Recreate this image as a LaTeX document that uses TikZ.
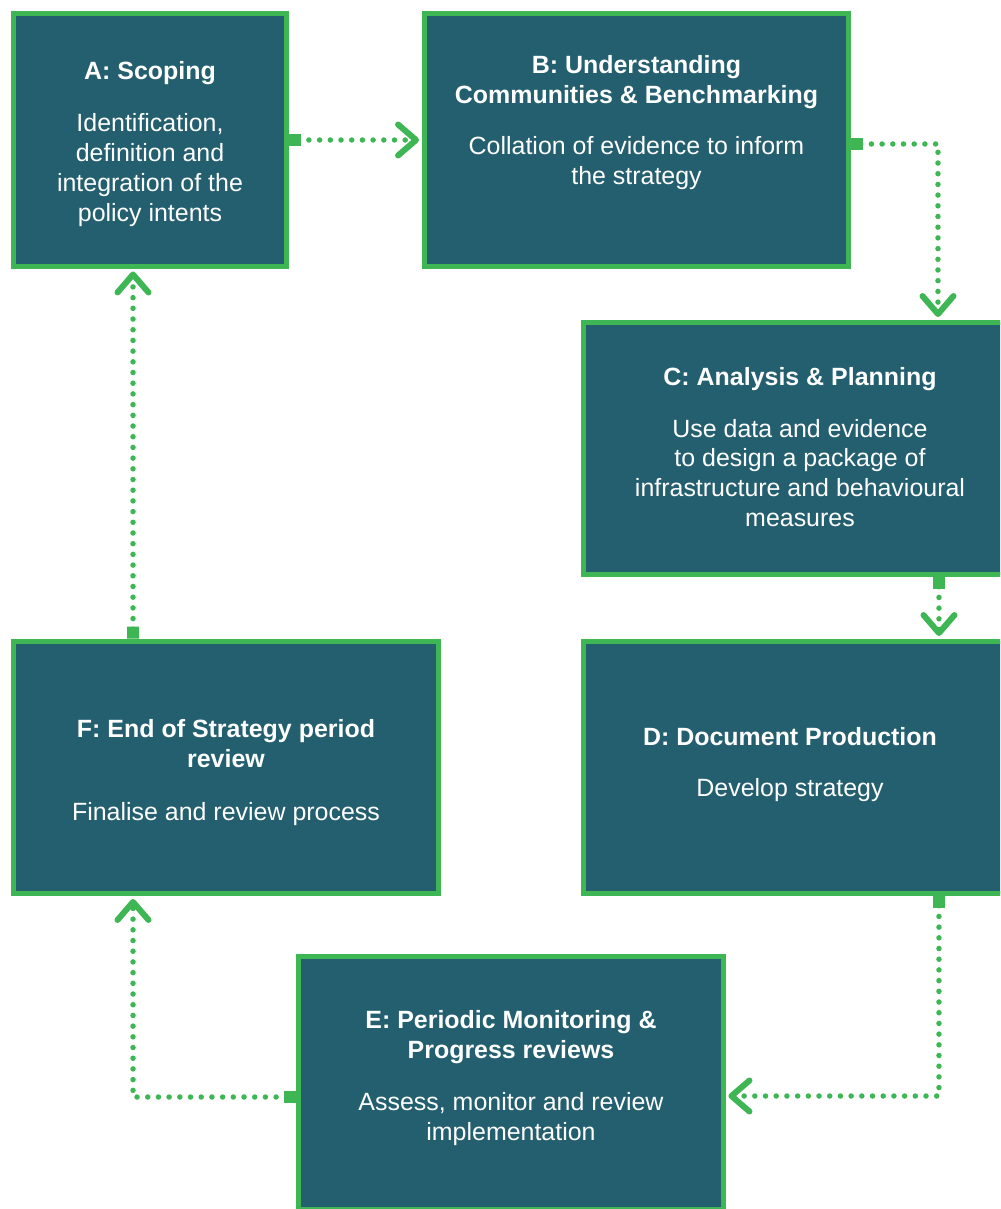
\documentclass[tikz,border=0pt]{standalone}
\usepackage{fontspec}
\setmainfont{Liberation Sans}
\usepackage{tikz}
\usetikzlibrary{arrows.meta, positioning, calc}

\definecolor{stageteal}{RGB}{35,95,111}
\definecolor{stagegreen}{RGB}{62,182,84}

\begin{document}
\begin{tikzpicture}[x=0.02cm, y=-0.02cm,
        stagebox/.style={draw=stagegreen, fill=stageteal, line width=0.1cm,
            minimum width=8.5cm, minimum height=5.06cm, inner sep=0pt},
        stagetext/.style={align=center, text=white, inner sep=0pt,
            font=\fontsize{14.2}{17}\selectfont},
        flow/.style={stagegreen, line width=0.11cm, line cap=round,
            dash pattern=on 0pt off 0.214cm, shorten >=0.05cm,
            {Square[length=0.24cm, width=0.24cm]}-{Straight Barb[length=0.36cm, width=0.62cm, line width=0.12cm, round]}}]

    \useasboundingbox (0,0) rectangle (1000,1209);
    \clip (0,0) rectangle (1000,1209);

    % Stage boxes
    \node[stagebox, minimum width=5.46cm] (boxA) at (150,140) {};
    \node[stagebox] (boxB) at (636.5,140) {};
    \node[stagebox] (boxC) at (796,448.5) {};
    \node[stagebox] (boxD) at (796,767.5) {};
    \node[stagebox] (boxE) at (511,1083) {};
    \node[stagebox] (boxF) at (226,767.5) {};

    % Stage texts
    \node[stagetext] (txtA) at ([yshift=-0.08cm]boxA.center) {\textbf{A: Scoping}\\[12.5pt]
        Identification,\\definition and\\integration of the\\policy intents};
    \node[stagetext] (txtB) at ([yshift=0.35cm]boxB.center) {\textbf{B: Understanding}\\\textbf{Communities \& Benchmarking}\\[12.5pt]
        Collation of evidence to inform\\the strategy};
    \node[stagetext] (txtC) at ([xshift=0.08cm, yshift=0.03cm]boxC.center) {\textbf{C: Analysis \& Planning}\\[12.5pt]
        Use data and evidence\\to design a package of\\infrastructure and behavioural\\measures};
    \node[stagetext] (txtD) at ([xshift=-0.12cm, yshift=0.06cm]boxD.center) {\textbf{D: Document Production}\\[12.5pt]
        Develop strategy};
    \node[stagetext] (txtE) at ([yshift=0.1cm]boxE.center) {\textbf{E: Periodic Monitoring \&}\\\textbf{Progress reviews}\\[12.5pt]
        Assess, monitor and review\\implementation};
    \node[stagetext] (txtF) at ([yshift=-0.1cm]boxF.center) {\textbf{F: End of Strategy period}\\\textbf{review}\\[13.5pt]
        Finalise and review process};

    % Cycle connectors
    \draw[flow] (boxA.east) -- (boxB.west);
    \draw[flow] ([yshift=-0.08cm]boxB.east) -| ([xshift=2.84cm]boxC.north);
    \draw[flow] ([xshift=2.86cm]boxC.south) -- ([xshift=2.86cm]boxD.north);
    \draw[flow] ([xshift=2.86cm]boxD.south) |- ([yshift=-0.26cm]boxE.east);
    \draw[flow] ([yshift=-0.28cm]boxE.west) -| ([xshift=-1.86cm]boxF.south);
    \draw[flow] ([xshift=-1.86cm]boxF.north) -- ([xshift=-0.34cm]boxA.south);
\end{tikzpicture}
\end{document}
